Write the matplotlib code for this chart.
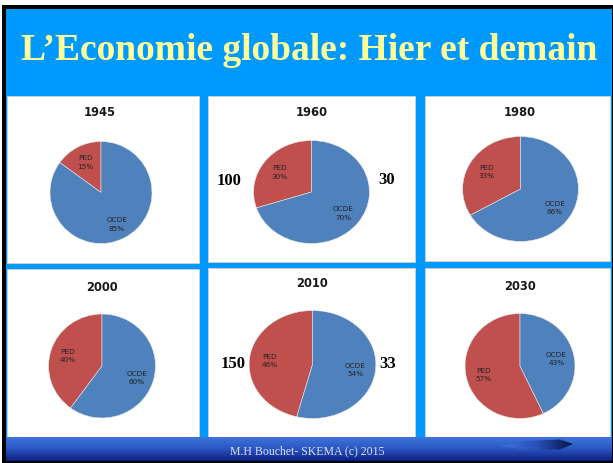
"""
Slide 'L'Economie globale: Hier et demain' - six pies of OCDE vs PED share.
"""

import matplotlib
matplotlib.use('Agg')
import matplotlib.pyplot as plt
from matplotlib.patches import Rectangle, Polygon
from matplotlib.colors import LinearSegmentedColormap
import numpy as np

# data
years = ['1945', '1960', '1980', '2000', '2010', '2030']
ped_share = [15, 30, 33, 40, 46, 57]
ocde_share = [85, 70, 66, 60, 54, 43]
slice_names = ['PED', 'OCDE']

# numbers written beside two of the pies (left = PED, right = OCDE)
side_left = ['', '100', '', '', '150', '']
side_right = ['', '30', '', '', '33', '']

title = "L\u2019Economie globale: Hier et demain"
footer = "M.H Bouchet- SKEMA (c) 2015"

# colours
SLIDE_BLUE = '#0099FF'
PIE_COLORS = ['#C0504D', '#4F81BD']   # PED, OCDE
TITLE_YELLOW = '#FFFF99'

# layout, in pixels of the 613x464 slide
W, H = 613, 464
panels = [(7, 97, 199, 264), (208, 97, 415, 263), (425, 97, 610, 262),
          (7, 270, 199, 438), (208, 269, 415, 438), (425, 269, 610, 438)]
pie_boxes = [(101, 193.5, 51.5, 51.5), (311.5, 193, 58.5, 52), (520.5, 190, 58.5, 53),
             (102, 367, 54, 52.5), (312.5, 365.5, 64, 54.5), (520, 367, 55.5, 53)]
year_pos = [(100, 113), (312, 113), (520, 112), (102, 288), (312, 284), (520, 287)]
side_pos = [None, ((229, 181), (387, 180)), None, None, ((233, 364), (388, 364)), None]


fig = plt.figure(figsize=(W / 100, H / 100), dpi=100)
fig.patch.set_facecolor('white')

# background axes in pixel coordinates
bg = fig.add_axes([0, 0, 1, 1])
bg.set_xlim(0, W)
bg.set_ylim(H, 0)
bg.axis('off')

# black frame + blue slide
bg.add_patch(Rectangle((2, 6), W - 2, H - 6, facecolor='black', edgecolor='none'))
bg.add_patch(Rectangle((6, 10), W - 7.5, H - 13, facecolor=SLIDE_BLUE, edgecolor='none'))

# white panels with a grey shadow line
for x0, y0, x1, y1 in panels:
    bg.add_patch(Rectangle((x0 + 1, y0 + 1), x1 - x0, y1 - y0, facecolor='#9a9a9a', edgecolor='none'))
    bg.add_patch(Rectangle((x0, y0), x1 - x0, y1 - y0, facecolor='white', edgecolor='#d0d0d0', linewidth=0.6))

# footer bar with vertical gradient
bar_cmap = LinearSegmentedColormap.from_list('bar', ['#3f74dc', '#2a55c0', '#0c1f80'])
grad = np.linspace(0, 1, 64).reshape(-1, 1)
bg.imshow(grad, cmap=bar_cmap, aspect='auto', extent=(6, W - 1.5, 462, 438), origin='upper', zorder=2)

# swoosh on the right of the footer
swoosh_cmap = LinearSegmentedColormap.from_list('sw', ['#3f74dc', '#2850b8', '#07123f'])
hgrad = np.linspace(0, 1, 64).reshape(1, -1)
im = bg.imshow(hgrad, cmap=swoosh_cmap, aspect='auto', extent=(500, 575, 453, 439), zorder=3)
sw = Polygon([(500, 447), (525, 442), (560, 440.5), (573, 445), (560, 450.5), (525, 451)],
             closed=True, transform=bg.transData, facecolor='none', edgecolor='none')
bg.add_patch(sw)
im.set_clip_path(sw)
bg.set_xlim(0, W)
bg.set_ylim(H, 0)

# slide title and footer text
bg.text(309, 60, title, ha='center', va='baseline', color=TITLE_YELLOW,
        fontsize=27, fontweight='bold', family='Liberation Serif', zorder=5)
bg.text(307, 451, footer, ha='center', va='center', color='#dce3f7',
        fontsize=8.5, family='Liberation Serif', zorder=5)

# the six pies
for i, year in enumerate(years):
    cx, cy, rx, ry = pie_boxes[i]
    ax = fig.add_axes([(cx - rx) / W, 1 - (cy + ry) / H, 2 * rx / W, 2 * ry / H])
    vals = [ped_share[i], ocde_share[i]]
    labs = iter([f'{slice_names[0]}\n{ped_share[i]}%', f'{slice_names[1]}\n{ocde_share[i]}%'])
    ax.pie(vals, colors=PIE_COLORS, startangle=90, counterclock=True,
           autopct=lambda p: next(labs), pctdistance=0.68,
           wedgeprops={'linewidth': 0.4, 'edgecolor': '#e8e8e8'},
           textprops={'fontsize': 5.2, 'family': 'DejaVu Sans', 'color': '#222222', 'linespacing': 1.45})
    ax.set_aspect('auto')
    ax.set_xlim(-1.01, 1.01)
    ax.set_ylim(-1.01, 1.01)
    ax.axis('off')

    # year heading
    bg.text(year_pos[i][0], year_pos[i][1], year, ha='center', va='center',
            fontsize=8.3, fontweight='bold', family='DejaVu Sans', color='#1a1a1a', zorder=5)

    # side numbers
    if side_pos[i] is not None:
        (lx, ly), (rx_, ry_) = side_pos[i]
        bg.text(lx, ly, side_left[i], ha='center', va='center', fontsize=12,
                fontweight='bold', family='Liberation Serif', color='black', zorder=5)
        bg.text(rx_, ry_, side_right[i], ha='center', va='center', fontsize=12,
                fontweight='bold', family='Liberation Serif', color='black', zorder=5)

fig.savefig('out.png', dpi=100)
